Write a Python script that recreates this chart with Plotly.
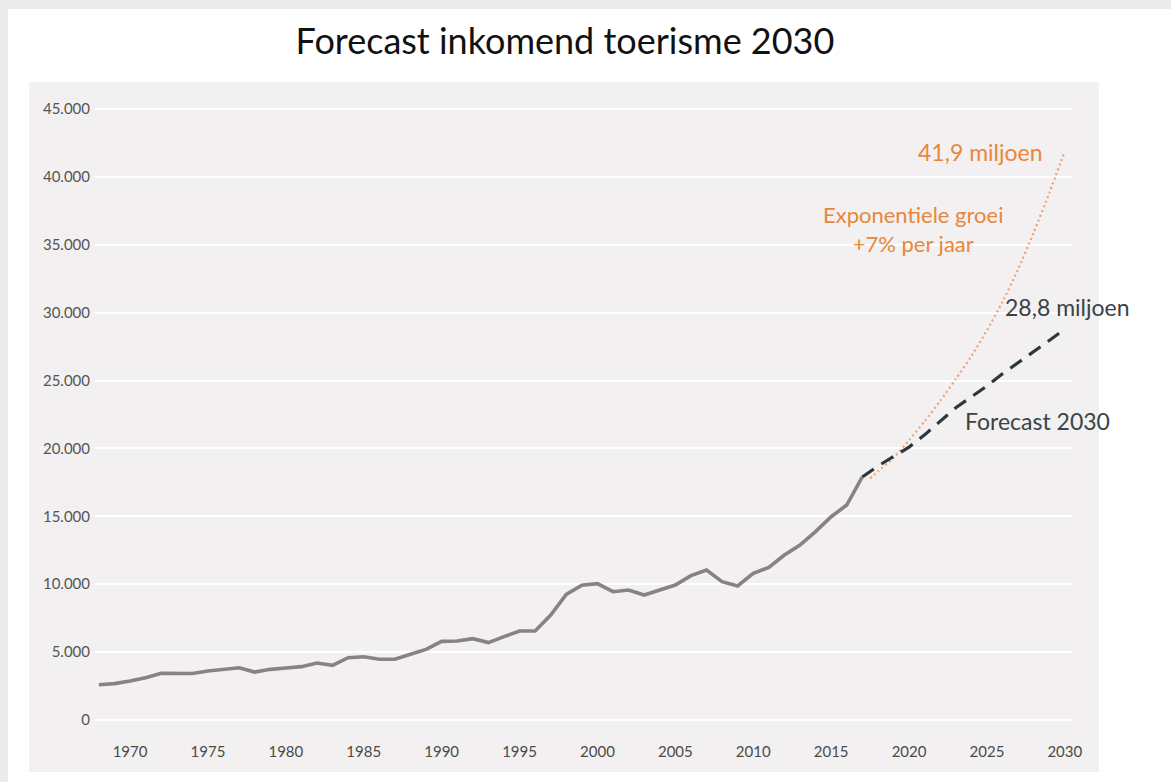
import plotly.graph_objects as go

# ---------------- data ----------------
years_hist = list(range(1968, 2018))
arrivals_hist = [2600, 2680, 2870, 3110, 3440, 3440, 3420, 3610, 3730, 3850,
                 3530, 3730, 3830, 3930, 4200, 4030, 4590, 4660, 4470, 4470,
                 4840, 5200, 5790, 5820, 5990, 5700, 6140, 6550, 6550, 7730,
                 9250, 9920, 10040, 9450, 9570, 9200, 9570, 9940, 10630, 11050,
                 10190, 9870, 10800, 11240, 12150, 12880, 13870, 14970, 15830, 17900]

years_forecast = list(range(2017, 2031))
arrivals_forecast = [17900, 18700, 19400, 20100, 21000, 22000, 23000, 23800,
                     24600, 25500, 26300, 27100, 27950, 28800]

years_expo = [2017.5, 2018, 2019, 2020, 2021, 2022, 2023, 2024, 2025, 2026,
              2027, 2028, 2029, 2030]
arrivals_expo = [17800, 18300, 19300, 20600, 22000, 23500, 25100, 26800,
                 28700, 30800, 33200, 35900, 38800, 41900]

x_ticks = [1970, 1975, 1980, 1985, 1990, 1995, 2000, 2005, 2010, 2015, 2020, 2025, 2030]
y_ticks = [0, 5000, 10000, 15000, 20000, 25000, 30000, 35000, 40000, 45000]
y_ticklabels = ["0", "5.000", "10.000", "15.000", "20.000", "25.000",
                "30.000", "35.000", "40.000", "45.000"]

title_text = "Forecast inkomend toerisme 2030"
label_expo_end = "41,9 miljoen"
label_expo = "Exponentiele groei<br>+7% per jaar"
label_fc_end = "28,8 miljoen"
label_fc = "Forecast 2030"

# ---------------- layout constants (pixels) ----------------
W, H = 1171, 782
ML, MR, MT, MB = 95, 99, 95, 47
PW, PH = W - ML - MR, H - MT - MB


def px_x(p):
    return (p - ML) / PW


def px_y(p):
    return (H - MB - p) / PH


ORANGE_TXT = "#e8873c"
ORANGE_LINE = "#f2a172"
DARK_TXT = "#3b4347"
DARK_LINE = "#2c373d"
GREY_LINE = "#878384"
FONT = "Lato"

fig = go.Figure()

fig.add_trace(go.Scatter(x=years_expo, y=arrivals_expo, mode="lines",
                         line=dict(color=ORANGE_LINE, width=2.2, dash="2px,3px",
                                   shape="spline", smoothing=0.6),
                         hoverinfo="skip"))
fig.add_trace(go.Scatter(x=years_forecast, y=arrivals_forecast, mode="lines",
                         line=dict(color=DARK_LINE, width=3.2, dash="14px,9px"),
                         hoverinfo="skip"))
fig.add_trace(go.Scatter(x=years_hist, y=arrivals_hist, mode="lines",
                         line=dict(color=GREY_LINE, width=3.6),
                         hoverinfo="skip"))

shapes = [
    # white card over a light shadow
    dict(type="rect", xref="paper", yref="paper", layer="below",
         x0=px_x(8), x1=px_x(W + 5), y0=px_y(9), y1=px_y(H + 5),
         fillcolor="white", line=dict(width=0)),
    # grey chart panel
    dict(type="rect", xref="paper", yref="paper", layer="below",
         x0=px_x(29), x1=px_x(1099), y0=px_y(82), y1=px_y(772),
         fillcolor="#f2f0f0", line=dict(width=0)),
]

annotations = [
    dict(text=label_expo_end, x=2028.73, y=41830, xref="x", yref="y",
         xanchor="right", yanchor="middle", showarrow=False,
         font=dict(family=FONT, size=23, color=ORANGE_TXT)),
    dict(text=label_expo, x=2020.26, y=36160, xref="x", yref="y",
         xanchor="center", yanchor="middle", showarrow=False, align="center",
         font=dict(family=FONT, size=22, color=ORANGE_TXT)),
    dict(text=label_fc_end, x=2026.03, y=30420, xref="x", yref="y",
         xanchor="left", yanchor="middle", showarrow=False,
         font=dict(family=FONT, size=23, color=DARK_TXT)),
    dict(text=label_fc, x=2023.47, y=22020, xref="x", yref="y",
         xanchor="left", yanchor="middle", showarrow=False,
         font=dict(family=FONT, size=23, color=DARK_TXT)),
]

fig.update_layout(
    width=W, height=H,
    margin=dict(l=ML, r=MR, t=MT, b=MB, pad=0),
    paper_bgcolor="#ebebeb",
    plot_bgcolor="rgba(0,0,0,0)",
    showlegend=False,
    hovermode=False,
    title=dict(text=title_text, x=565 / W, xref="container", xanchor="center",
               y=1 - 41 / H, yref="container", yanchor="middle",
               font=dict(family=FONT, size=36, color="#111111")),
    shapes=shapes,
    annotations=annotations,
    xaxis=dict(range=[1967.75, 2030.46], tickvals=x_ticks, showgrid=False,
               zeroline=False, showline=False, ticks="",
               ticklabelstandoff=6,
               tickfont=dict(family=FONT, size=15, color="#4a4a4a")),
    yaxis=dict(range=[-1105, 46030], tickvals=y_ticks, ticktext=y_ticklabels,
               showgrid=True, gridcolor="white", gridwidth=2,
               zeroline=False, showline=False, ticks="",
               ticklabelstandoff=4,
               tickfont=dict(family=FONT, size=15, color="#555555")),
)

fig.write_html("out.html",
               config={"displayModeBar": False},
               post_script="document.body.style.margin='0';"
                           "document.body.style.overflow='hidden';")
